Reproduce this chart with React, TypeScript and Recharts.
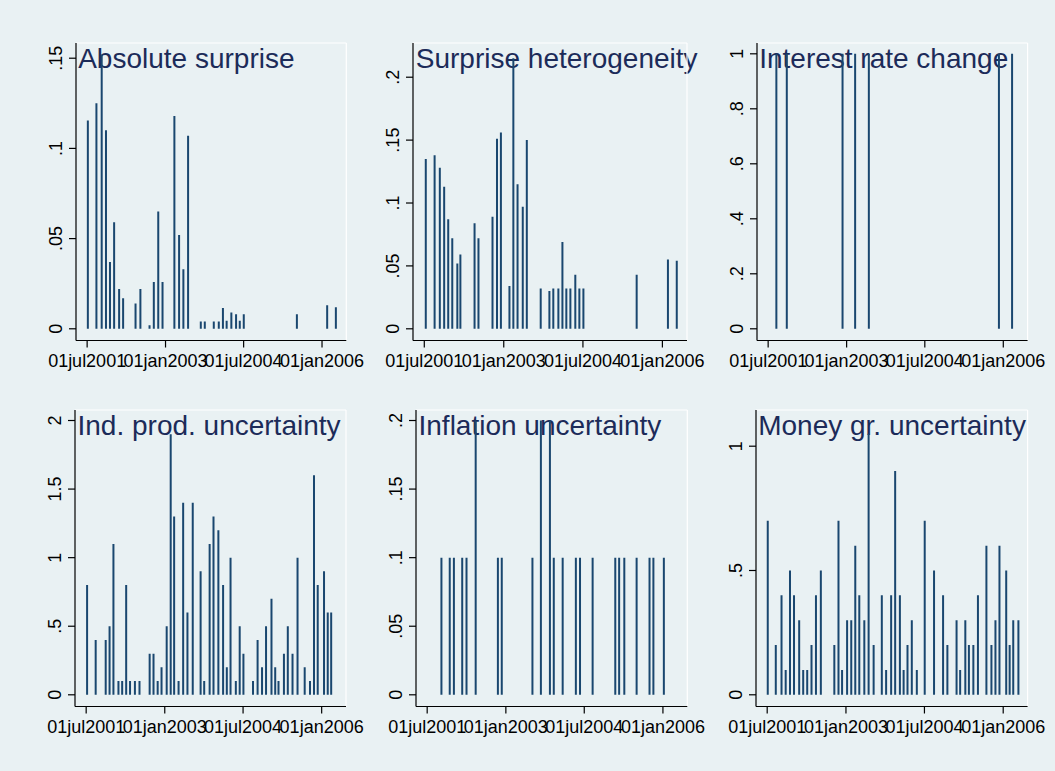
import React from 'react';
import { ComposedChart, Bar, XAxis, YAxis, ReferenceLine } from 'recharts';

// x axis: Stata date ticks and visible range
const X_TICK_DATES = ['2001-07-01', '2003-01-01', '2004-07-01', '2006-01-01'];
const X_RANGE = ['2001-04-14', '2006-06-20'];

// Absolute surprise
const AS_DATES = [
  '2001-07-05', '2001-09-03', '2001-10-10', '2001-11-09', '2001-12-07', '2002-01-05', '2002-02-09', '2002-03-09',
  '2002-06-04', '2002-07-08', '2002-09-10', '2002-10-10', '2002-11-10', '2002-12-10', '2003-03-03', '2003-04-05',
  '2003-05-05', '2003-06-07', '2003-09-04', '2003-10-02', '2003-12-04', '2004-01-08', '2004-02-06', '2004-03-03',
  '2004-04-05', '2004-05-08', '2004-06-03', '2004-07-01', '2005-07-08', '2006-02-05', '2006-04-07',
];
const AS_VALUES = [
  0.1155, 0.125, 0.152, 0.11, 0.037, 0.059, 0.022, 0.017,
  0.014, 0.022, 0.002, 0.026, 0.065, 0.026, 0.118, 0.052,
  0.033, 0.107, 0.004, 0.004, 0.004, 0.004, 0.0115, 0.0045,
  0.009, 0.008, 0.0045, 0.008, 0.008, 0.013, 0.012,
];
const AS_TICKS = [0, 0.05, 0.1, 0.15];

// Surprise heterogeneity
const SH_DATES = [
  '2001-07-08', '2001-09-07', '2001-10-13', '2001-11-12', '2001-12-10', '2002-01-07', '2002-02-11', '2002-03-04',
  '2002-06-10', '2002-07-07', '2002-10-12', '2002-11-12', '2002-12-09', '2003-02-06', '2003-03-05', '2003-04-03',
  '2003-05-09', '2003-06-06', '2003-09-10', '2003-11-09', '2003-12-06', '2004-01-10', '2004-02-07', '2004-03-05',
  '2004-04-02', '2004-05-06', '2004-06-03', '2004-07-01', '2005-07-04', '2006-02-05', '2006-04-07',
];
const SH_VALUES = [
  0.135, 0.138, 0.128, 0.113, 0.087, 0.072, 0.052, 0.059,
  0.084, 0.072, 0.089, 0.151, 0.156, 0.034, 0.215, 0.115,
  0.097, 0.15, 0.032, 0.03, 0.032, 0.032, 0.069, 0.032,
  0.032, 0.043, 0.032, 0.032, 0.043, 0.055, 0.054,
];
const SH_TICKS = [0, 0.05, 0.1, 0.15, 0.2];

// Interest rate change
const IR_DATES = ['2001-08-29', '2001-11-10', '2002-12-05', '2003-03-03', '2003-06-07', '2005-12-03', '2006-03-05'];
const IR_VALUES = [1, 1, 1, 1, 1, 1, 1];
const IR_TICKS = [0, 0.2, 0.4, 0.6, 0.8, 1];

// Ind. prod. uncertainty
const IP_DATES = [
  '2001-07-05', '2001-09-03', '2001-11-12', '2001-12-09', '2002-01-05', '2002-02-09', '2002-03-07', '2002-04-04',
  '2002-05-01', '2002-06-04', '2002-07-06', '2002-09-15', '2002-10-12', '2002-11-10', '2002-12-07', '2003-01-12',
  '2003-02-09', '2003-03-05', '2003-04-05', '2003-05-07', '2003-06-06', '2003-07-13', '2003-09-06', '2003-10-01',
  '2003-11-08', '2003-12-05', '2004-01-08', '2004-02-10', '2004-03-07', '2004-04-02', '2004-05-09', '2004-06-05',
  '2004-07-01', '2004-09-06', '2004-10-08', '2004-11-08', '2004-12-06', '2005-01-13', '2005-02-08', '2005-03-03',
  '2005-04-10', '2005-05-07', '2005-06-09', '2005-07-14', '2005-09-02', '2005-10-09', '2005-11-06', '2005-12-02',
  '2006-01-15', '2006-02-10', '2006-03-06',
];
const IP_VALUES = [
  0.8, 0.4, 0.4, 0.5, 1.1, 0.1, 0.1, 0.8,
  0.1, 0.1, 0.1, 0.3, 0.3, 0.1, 0.2, 0.5,
  1.9, 1.3, 0.1, 1.4, 0.6, 1.4, 0.9, 0.1,
  1.1, 1.3, 1.2, 0.8, 0.2, 1.0, 0.1, 0.5,
  0.3, 0.1, 0.4, 0.2, 0.5, 0.7, 0.2, 0.1,
  0.3, 0.5, 0.3, 1.0, 0.2, 0.1, 1.6, 0.8,
  0.9, 0.6, 0.6,
];
const IP_TICKS = [0, 0.5, 1, 1.5, 2];

// Inflation uncertainty
const INF_DATES = [
  '2001-10-08', '2001-12-05', '2002-01-03', '2002-03-02', '2002-04-01', '2002-06-04', '2002-11-06', '2002-12-03',
  '2003-07-05', '2003-09-02', '2003-11-04', '2003-12-01', '2004-02-01', '2004-05-03', '2004-06-01', '2004-08-28',
  '2005-02-02', '2005-03-01', '2005-04-06', '2005-07-01', '2005-09-29', '2005-10-26', '2006-01-07',
];
const INF_VALUES = [
  0.1, 0.1, 0.1, 0.1, 0.1, 0.2, 0.1, 0.1,
  0.1, 0.2, 0.2, 0.1, 0.1, 0.1, 0.1, 0.1,
  0.1, 0.1, 0.1, 0.1, 0.1, 0.1, 0.1,
];
const INF_TICKS = [0, 0.05, 0.1, 0.15, 0.2];

// Money gr. uncertainty
const MG_DATES = [
  '2001-07-03', '2001-08-28', '2001-10-07', '2001-11-05', '2001-12-05', '2002-01-02', '2002-02-07', '2002-03-07',
  '2002-04-04', '2002-05-04', '2002-06-04', '2002-07-08', '2002-10-10', '2002-11-08', '2002-12-03', '2003-01-07',
  '2003-02-05', '2003-03-05', '2003-04-02', '2003-05-07', '2003-06-06', '2003-07-11', '2003-09-06', '2003-10-06',
  '2003-11-10', '2003-12-08', '2004-01-10', '2004-02-05', '2004-03-03', '2004-04-02', '2004-05-07', '2004-07-01',
  '2004-09-04', '2004-11-06', '2004-12-06', '2005-02-08', '2005-03-05', '2005-04-10', '2005-05-05', '2005-06-05',
  '2005-07-07', '2005-09-04', '2005-10-09', '2005-11-06', '2005-12-04', '2006-01-20', '2006-02-13', '2006-03-10',
  '2006-04-15',
];
const MG_VALUES = [
  0.7, 0.2, 0.4, 0.1, 0.5, 0.4, 0.3, 0.1,
  0.1, 0.2, 0.4, 0.5, 0.2, 0.7, 0.1, 0.3,
  0.3, 0.6, 0.4, 0.3, 1.05, 0.2, 0.4, 0.1,
  0.4, 0.9, 0.4, 0.1, 0.2, 0.3, 0.1, 0.7,
  0.5, 0.4, 0.2, 0.3, 0.1, 0.3, 0.2, 0.2,
  0.4, 0.6, 0.2, 0.3, 0.6, 0.5, 0.2, 0.3,
  0.3,
];
const MG_TICKS = [0, 0.5, 1];

const BG = '#e9f1f3';
const SPIKE = '#1a476f';
const TITLE = '#1c2b59';
const FONT = '"Liberation Sans", Arial, Helvetica, sans-serif';
const MONTHS = ['jan', 'feb', 'mar', 'apr', 'may', 'jun', 'jul', 'aug', 'sep', 'oct', 'nov', 'dec'];

const toTime = (d: string) => Date.parse(d + 'T00:00:00Z');
const fmtDate = (t: number) => {
  const d = new Date(t);
  return String(d.getUTCDate()).padStart(2, '0') + MONTHS[d.getUTCMonth()] + d.getUTCFullYear();
};
const fmtNum = (v: number) => (v === 0 ? '0' : String(v).replace(/^0\./, '.'));

const xTicks = X_TICK_DATES.map(toTime);
const xDomain: [number, number] = [toTime(X_RANGE[0]), toTime(X_RANGE[1])];

function YTick({ x, y, payload }: any) {
  return (
    <text x={x} y={y} transform={`rotate(-90 ${x} ${y})`} textAnchor="middle"
      fontSize={18} fontFamily={FONT} fill="#000">
      {fmtNum(payload.value)}
    </text>
  );
}

interface Box { l: number; t: number; r: number; b: number }
interface PanelProps {
  title: string;
  dates: string[];
  values: number[];
  yTicks: number[];
  yDomain: [number, number];
  box: Box;
}

const YW = 50;
const XH = 50;
const PAD = 5;
const RPAD = 45;
const axisStyle = { stroke: '#000', strokeWidth: 1.2 };

function Panel({ title, dates, values, yTicks, yDomain, box }: PanelProps) {
  const data = dates.map((d, i) => ({ t: toTime(d), v: values[i] }));
  const w = box.r - box.l + YW + RPAD;
  const h = box.b - box.t + XH + PAD;
  return (
    <>
      <div style={{
        position: 'absolute', left: box.l + 2.5, top: box.t + 2.5, fontSize: 28, lineHeight: '28px',
        fontFamily: FONT, color: TITLE, whiteSpace: 'nowrap',
      }}>
        {title}
      </div>
      <div style={{ position: 'absolute', left: box.l - YW, top: box.t - PAD }}>
        <ComposedChart width={w} height={h} data={data} margin={{ top: PAD, right: RPAD, bottom: 0, left: 0 }}>
          <XAxis dataKey="t" type="number" scale="linear" domain={xDomain} ticks={xTicks} allowDataOverflow
            interval={0} tickFormatter={fmtDate} height={XH} tickSize={7} tickMargin={6.6}
            axisLine={axisStyle} tickLine={axisStyle}
            tick={{ fontSize: 18, fontFamily: FONT, fill: '#000' }} />
          <YAxis type="number" domain={yDomain} ticks={yTicks} allowDataOverflow interval={0}
            width={YW} tickSize={7} tickMargin={7} axisLine={axisStyle} tickLine={axisStyle}
            tick={<YTick />} />
          <ReferenceLine y={yDomain[1]} stroke="#fff" strokeWidth={1.2} />
          <ReferenceLine x={xDomain[1]} stroke="#fff" strokeWidth={1.2} />
          <Bar dataKey="v" fill={SPIKE} barSize={2} isAnimationActive={false} />
        </ComposedChart>
      </div>
    </>
  );
}

export default function App() {
  return (
    <div style={{ position: 'fixed', left: 0, top: 0, width: 1055, height: 771, background: BG, overflow: 'hidden' }}>
      <Panel title="Absolute surprise" dates={AS_DATES} values={AS_VALUES} yTicks={AS_TICKS}
        yDomain={[-0.00649, 0.15843]} box={{ l: 75.7, t: 42.5, r: 346, b: 340 }} />
      <Panel title="Surprise heterogeneity" dates={SH_DATES} values={SH_VALUES} yTicks={SH_TICKS}
        yDomain={[-0.0093, 0.2272]} box={{ l: 413.3, t: 42.5, r: 687.3, b: 340 }} />
      <Panel title="Interest rate change" dates={IR_DATES} values={IR_VALUES} yTicks={IR_TICKS}
        yDomain={[-0.04255, 1.0393]} box={{ l: 756.7, t: 42.5, r: 1027.3, b: 340 }} />
      <Panel title="Ind. prod. uncertainty" dates={IP_DATES} values={IP_VALUES} yTicks={IP_TICKS}
        yDomain={[-0.0853, 2.0766]} box={{ l: 75, t: 409.5, r: 346, b: 706 }} />
      <Panel title="Inflation uncertainty" dates={INF_DATES} values={INF_VALUES} yTicks={INF_TICKS}
        yDomain={[-0.00853, 0.20766]} box={{ l: 416, t: 409.5, r: 687.3, b: 706 }} />
      <Panel title="Money gr. uncertainty" dates={MG_DATES} values={MG_VALUES} yTicks={MG_TICKS}
        yDomain={[-0.0471, 1.1456]} box={{ l: 755.7, t: 409.5, r: 1027.3, b: 706 }} />
    </div>
  );
}
